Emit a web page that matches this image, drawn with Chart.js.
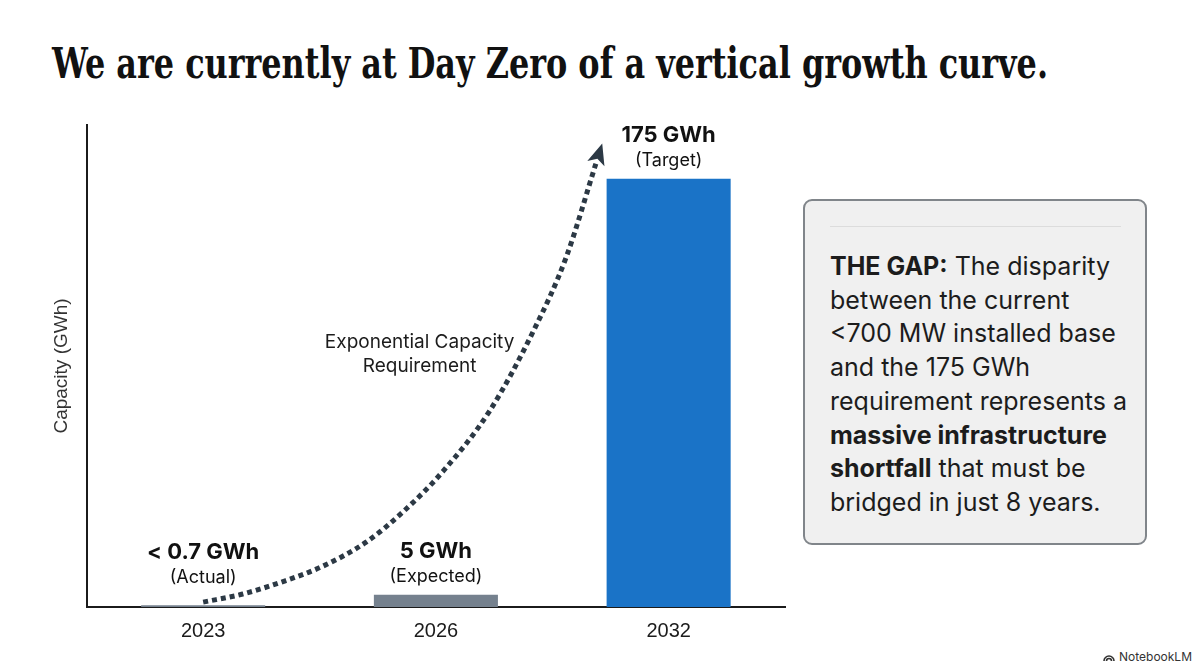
<!DOCTYPE html>
<html>
<head>
<meta charset="utf-8">
<script src="https://cdn.jsdelivr.net/npm/chart.js@4.4.0/dist/chart.umd.min.js"></script>
<style>
  body { margin: 0; width: 1200px; height: 670px; overflow: hidden; position: relative; background: #fff; font-family: Inter, sans-serif; }
  #title { position: absolute; left: 52px; top: 39px; margin: 0; white-space: nowrap; transform-origin: 0 0;
           font-family: "DejaVu Serif Condensed", "DejaVu Serif", serif; font-weight: bold; font-size: 42px; color: #111; }
  #wrap { position: absolute; left: 0; top: 0; width: 800px; height: 670px; }
  #gap { position: absolute; left: 803px; top: 199px; width: 344px; height: 346px; box-sizing: border-box;
         border: 2.5px solid #80858a; border-radius: 9px; background: #f0f0f0; }
  #gap .rule { position: absolute; left: 25px; right: 24px; top: 25px; height: 1px; background: #dcdcdc; }
  #gap p { position: absolute; left: 25px; top: 49px; margin: 0; font-size: 25px; line-height: 33.7px; color: #1c1c1c; }
  #gap b { font-weight: 700; }
  #brand { position: absolute; right: 8px; bottom: 6px; font-size: 12px; color: #333; display: flex; align-items: center; gap: 4px; }
</style>
</head>
<body>
<h1 id="title">We are currently at Day Zero of a vertical growth curve.</h1>
<div id="wrap"><canvas id="chart"></canvas></div>
<div id="gap">
  <div class="rule"></div>
  <p><b>THE GAP:</b> The disparity<br>between the current<br>&lt;700 MW installed base<br>and the 175 GWh<br>requirement represents a<br><b>massive infrastructure<br>shortfall</b> that must be<br>bridged in just 8 years.</p>
</div>
<div id="brand">
  <svg width="12" height="9" viewBox="0 0 12 9"><path d="M1 9a5 5 0 0 1 10 0M3.5 9a2.5 2.5 0 0 1 5 0" fill="none" stroke="#333" stroke-width="1.6"/></svg>
  <span>NotebookLM</span>
</div>
<script>
const years = ['2023', '2026', '2032'];
const capacity = [0.7, 5, 175];
const valueLabels = ['< 0.7 GWh', '5 GWh', '175 GWh'];
const noteLabels = ['(Actual)', '(Expected)', '(Target)'];
const barColors = ['#75818e', '#75818e', '#1a73c7'];

// dotted "exponential" arrow, x = position along the year axis (0 = 2023, 1 = 2026, 2 = 2032)
const curveYear = [0, 0.17, 0.34, 0.51, 0.70, 0.86, 1.03, 1.23, 1.42, 1.56, 1.69];
const curveCapacity = [2, 5.3, 10.3, 16.5, 26.5, 39, 55.4, 80, 113, 143, 182];

// squeeze title to the reference width
const title = document.getElementById('title');
title.style.transform = 'scaleX(' + (996 / title.getBoundingClientRect().width) + ')';

const labelPlugin = {
    id: 'labels',
    afterDatasetsDraw(chart) {
        const ctx = chart.ctx;
        const xc = chart.scales.xc;
        const y = chart.scales.y;
        const base = y.getPixelForValue(0);

        // value labels over bars (kept clear of the axis for tiny bars)
        chart.getDatasetMeta(0).data.forEach((bar, i) => {
            const noteY = Math.min(bar.y - 13, base - 24);
            ctx.save();
            ctx.textAlign = 'center';
            ctx.textBaseline = 'alphabetic';
            ctx.fillStyle = '#111';
            ctx.font = '18px Inter';
            ctx.fillText(noteLabels[i], bar.x, noteY);
            ctx.font = 'bold 22px Inter';
            ctx.fillText(valueLabels[i], bar.x, noteY - 24);
            ctx.restore();
        });

        // arrow head at the end of the curve
        const pts = chart.getDatasetMeta(1).data;
        const p = pts[pts.length - 1];
        const q = pts[pts.length - 2];
        const ang = Math.atan2(p.y - q.y, p.x - q.x);
        ctx.save();
        ctx.translate(p.x, p.y);
        ctx.rotate(ang);
        ctx.beginPath();
        ctx.moveTo(19, 0);
        ctx.lineTo(-2, -9);
        ctx.lineTo(3, 0);
        ctx.lineTo(-2, 9);
        ctx.closePath();
        ctx.fillStyle = '#2c3945';
        ctx.fill();
        ctx.restore();

        // curve caption
        ctx.save();
        ctx.textAlign = 'center';
        ctx.fillStyle = '#1c1c1c';
        ctx.font = '19px Inter';
        const cx = xc.getPixelForValue(0.93);
        const cy = y.getPixelForValue(106);
        ctx.fillText('Exponential Capacity', cx, cy);
        ctx.fillText('Requirement', cx, cy + 24);
        ctx.restore();
    }
};

const ctx = document.getElementById('chart').getContext('2d');
const chart = new Chart(ctx, {
    type: 'bar',
    data: {
        labels: years,
        datasets: [
            {
                data: capacity,
                backgroundColor: barColors,
                barPercentage: 0.533,
                categoryPercentage: 1,
                grouped: false,
                order: 2
            },
            {
                type: 'line',
                xAxisID: 'xc',
                data: curveYear.map((x, i) => ({ x: x, y: curveCapacity[i] })),
                borderColor: '#2c3945',
                borderWidth: 5,
                borderDash: [5, 4],
                borderCapStyle: 'butt',
                pointRadius: 0,
                cubicInterpolationMode: 'monotone',
                fill: false,
                order: 1
            }
        ]
    },
    options: {
        responsive: true,
        maintainAspectRatio: false,
        animation: false,
        layout: { padding: { left: 40, right: 15, top: 125, bottom: 15 } },
        plugins: { legend: { display: false }, tooltip: { enabled: false } },
        scales: {
            x: {
                grid: { display: false, drawTicks: false },
                border: { color: '#1b1b1b', width: 2 },
                ticks: { color: '#1b1b1b', font: { size: 20, family: 'Liberation Sans' }, padding: 12 }
            },
            xc: { type: 'linear', display: false, offset: false, min: -0.5, max: 2.5 },
            y: {
                min: 0,
                max: 197,
                grid: { display: false, drawTicks: false },
                border: { color: '#1b1b1b', width: 2 },
                ticks: { display: false },
                title: {
                    display: true,
                    text: 'Capacity (GWh)',
                    color: '#333',
                    font: { size: 19, family: 'Liberation Sans' },
                    padding: { top: 10, bottom: 14 }
                }
            }
        }
    },
    plugins: [labelPlugin]
});
</script>
</body>
</html>
